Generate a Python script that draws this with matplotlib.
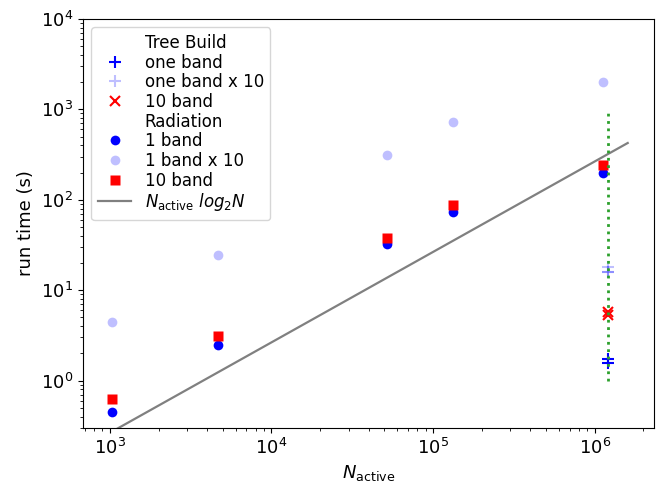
import matplotlib
matplotlib.use("Agg")
import matplotlib.pyplot as plt
import numpy as np

plt.rcParams['font.size'] = 13

# Radiation data
rad_n = [1.03e3, 4.7e3, 5.2e4, 1.32e5, 1.12e6]
rad_one = [0.45, 2.45, 32.0, 73.0, 200.0]
rad_one_x10 = [4.45, 24.5, 310.0, 730.0, 2000.0]
rad_ten = [0.63, 3.1, 37.5, 88.0, 240.0]

# Tree build data (all at the largest N)
tree_n = 1.2e6
tree_one = [1.58, 1.75]
tree_one_x10 = [18.0, 16.0, 15.7]
tree_ten = [5.3, 5.8]

# Reference scaling line
line_n = [1.0e3, 1.6e6]
line_t = [0.265, 424.0]

# Vertical marker line
vline_n = 1.2e6
vline_range = [1.0, 1000.0]

fig = plt.figure(figsize=(6.63, 4.83), dpi=100)
ax = fig.add_axes([0.125, 0.114, 0.861, 0.847])

light = (0.0, 0.0, 1.0, 0.25)

ax.plot([], [], ' ', label='Tree Build')
ax.plot([tree_n] * len(tree_one), tree_one, '+', color='blue', ms=8, mew=1.5, label='one band')
ax.plot([tree_n] * len(tree_one_x10), tree_one_x10, '+', color=light, ms=8, mew=1.5, label='one band x 10')
ax.plot([tree_n] * len(tree_ten), tree_ten, 'x', color='red', ms=7, mew=1.5, label='10 band')
ax.plot([], [], ' ', label='Radiation')
ax.plot(rad_n, rad_one, 'o', color='blue', ms=7, mec='none', label='1 band')
ax.plot(rad_n, rad_one_x10, 'o', color='#bfbfff', ms=7, mec='none', label='1 band x 10')
ax.plot(rad_n, rad_ten, 's', color='red', ms=7, mec='none', label='10 band')
ax.plot(line_n, line_t, '-', color='gray', lw=1.6, label=r'$N_{\rm active}$ $log_2 N$')
ax.vlines(vline_n, vline_range[0], vline_range[1], colors='tab:green', linestyles=':', lw=2)

ax.set_xscale('log')
ax.set_yscale('log')
ax.set_xlim(10**2.833, 10**6.365)
ax.set_ylim(0.3, 1e4)
ax.set_xlabel(r'$N_{\rm active}$')
ax.set_ylabel('run time (s)')
ax.legend(loc='upper left', fontsize=12, labelspacing=0.1)

fig.savefig('out.png', dpi=100)
